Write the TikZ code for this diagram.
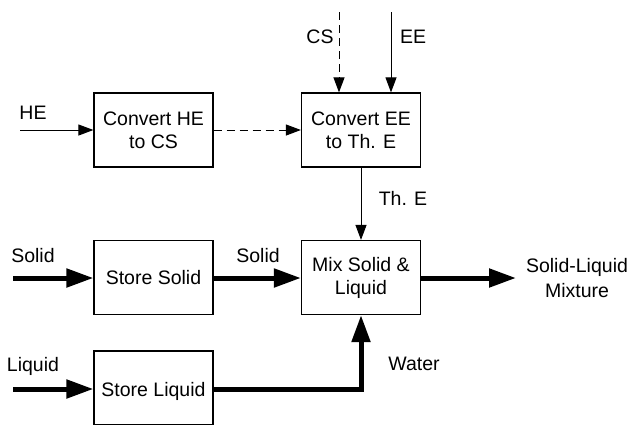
\documentclass[tikz,border=0pt]{standalone}
\usepackage{fontspec}
\setmainfont{Liberation Sans}
\usetikzlibrary{arrows.meta}
\begin{document}
\begin{tikzpicture}[x=1pt,y=-1pt,
  blk/.style={draw,line width=1.2pt,minimum width=119pt,minimum height=74pt,inner sep=0pt,align=center,font=\fontsize{19.5}{23}\selectfont},
  lbl/.style={font=\fontsize{19.5}{23}\selectfont,inner sep=0pt,anchor=base},
  thin/.style={line width=1pt,-{Triangle[length=15pt,width=11pt]}},
  thick/.style={line width=5pt,-{Triangle[length=27pt,width=18pt]}},
  dsh/.style={dash pattern=on 8pt off 5pt}]
\clip (0,0) rectangle (631,424);
\useasboundingbox (0,0) rectangle (631,424);
\node[blk] (b1) at (153.5,130) {Convert HE\\to CS};
\node[blk] (b2) at (361,130) {Convert EE\\to Th. E};
\node[blk] (b3) at (153.5,277.5) {Store Solid};
\node[blk] (b4) at (361,277.5) {Mix Solid \&\\Liquid};
\node[blk] (b5) at (153.5,388) {};
\node[lbl] (t5) at (153.5,396) {Store Liquid};
\coordinate (he) at (20,130);
\coordinate (cs) at (339,12);
\coordinate (ee) at (391,12);
\coordinate (si) at (13,278);
\coordinate (li) at (13,389);
\coordinate (out) at (516,278);
\coordinate (wc) at (361,389);
\draw[thin] (he) -- (b1.west);
\draw[thin,dsh] (b1.east) -- (b2.west);
\draw[thin,dsh] (cs) -- (cs |- b2.north);
\draw[thin] (ee) -- (ee |- b2.north);
\draw[thin] (b2.south) -- (b4.north);
\draw[thick] (si) -- (si -| b3.west);
\draw[thick] (b3.east |- si) -- (si -| b4.west);
\draw[thick] (b4.east |- out) -- (out);
\draw[thick] (li) -- (li -| b5.west);
\draw[thick] (b5.east |- li) -- (wc) -- (b4.south);
\node[lbl] (lhe) at (33,119) {HE};
\node[lbl] (lcs) at (320,43) {CS};
\node[lbl] (lee) at (413,43) {EE};
\node[lbl] (lth) at (403,205) {Th. E};
\node[lbl] (ls1) at (33,262) {Solid};
\node[lbl] (ls2) at (258,262) {Solid};
\node[lbl] (lli) at (33,371) {Liquid};
\node[lbl] (lwa) at (414,370) {Water};
\node[lbl] (lm1) at (577,272) {Solid-Liquid};
\node[lbl] (lm2) at (577,297) {Mixture};
\end{tikzpicture}
\end{document}
